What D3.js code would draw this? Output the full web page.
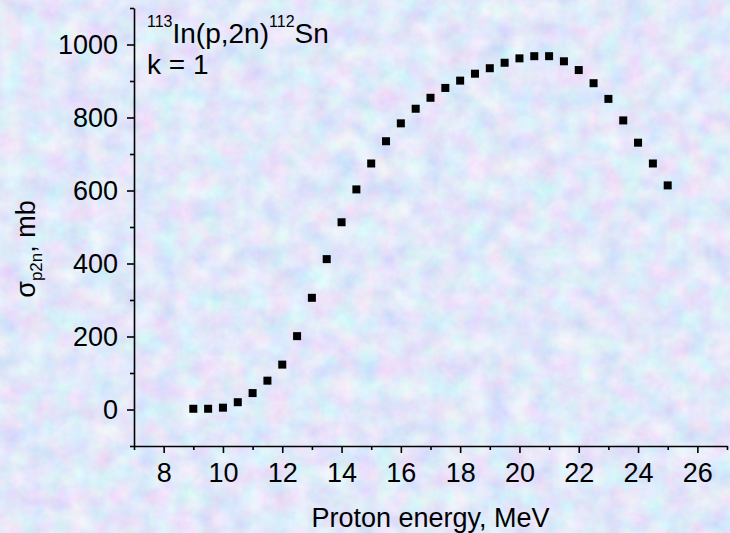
<!DOCTYPE html>
<html>
<head>
<meta charset="utf-8">
<script src="https://cdn.jsdelivr.net/npm/d3@7"></script>
<style>
  body { margin: 0; background: #c2d3f3; }
  svg { display: block; font-family: "Liberation Sans", Arial, sans-serif; }
</style>
</head>
<body>
<div id="chart"></div>
<script>
// Data
const energy = [9, 9.5, 10, 10.5, 11, 11.5, 12, 12.5, 13, 13.5, 14, 14.5, 15, 15.5, 16, 16.5,
    17, 17.5, 18, 18.5, 19, 19.5, 20, 20.5, 21, 21.5, 22, 22.5, 23, 23.5, 24, 24.5, 25];
const sigma = [2, 2, 5, 20, 45, 79, 123, 201, 306, 412, 513, 603, 674, 735, 784, 824,
    854, 881, 901, 920, 935, 950, 962, 968, 968, 954, 930, 894, 851, 792, 731, 674, 614];
const xMajor = [8, 10, 12, 14, 16, 18, 20, 22, 24, 26];
const xMinor = [7, 9, 11, 13, 15, 17, 19, 21, 23, 25, 27];
const yMajor = [0, 200, 400, 600, 800, 1000];
const yMinor = [-100, 100, 300, 500, 700, 900, 1100];

const W = 730, H = 533;
const margin = {top: 8, right: 3, bottom: 87, left: 134};
const font = "Liberation Sans, Arial, sans-serif";

const svg = d3.select("#chart").append("svg")
    .attr("width", W)
    .attr("height", H);

// Pastel textured background
const defs = svg.append("defs");
const f = defs.append("filter").attr("id", "paper")
    .attr("x", 0).attr("y", 0).attr("width", "100%").attr("height", "100%");
f.append("feTurbulence")
    .attr("type", "fractalNoise")
    .attr("baseFrequency", 0.045)
    .attr("numOctaves", 4)
    .attr("seed", 3);
f.append("feColorMatrix")
    .attr("type", "matrix")
    .attr("values", "0.45 0 0 0 0.53  0 0.38 0 0 0.62  0 0 0.14 0 0.88  0 0 0 0 1");
svg.append("rect").attr("width", W).attr("height", H).attr("fill", "#c2d3f3");
svg.append("rect").attr("width", W).attr("height", H)
    .attr("filter", "url(#paper)");

const x = d3.scaleLinear().domain([7, 27]).range([margin.left, W - margin.right]);
const y = d3.scaleLinear().domain([-100, 1100]).range([H - margin.bottom, margin.top]);

// X axis
svg.append("g")
    .attr("transform", `translate(0, ${y(-100)})`)
    .call(d3.axisBottom(x).tickValues(xMinor).tickSize(4).tickSizeOuter(0).tickFormat(""))
    .call(g => g.select(".domain").remove());
svg.append("g")
    .attr("transform", `translate(0, ${y(-100)})`)
    .call(d3.axisBottom(x).tickValues(xMajor).tickSize(7).tickSizeOuter(0).tickPadding(10)
        .tickFormat(d3.format("d")))
    .call(g => g.selectAll("text").attr("font-size", 27).attr("fill", "#000")
        .attr("font-family", font));

// Y axis
svg.append("g")
    .attr("transform", `translate(${x(7)}, 0)`)
    .call(d3.axisLeft(y).tickValues(yMinor).tickSize(4).tickSizeOuter(0).tickFormat(""))
    .call(g => g.select(".domain").remove());
svg.append("g")
    .attr("transform", `translate(${x(7)}, 0)`)
    .call(d3.axisLeft(y).tickValues(yMajor).tickSize(7).tickSizeOuter(0).tickPadding(9)
        .tickFormat(d3.format("d")))
    .call(g => g.selectAll("text").attr("font-size", 27).attr("fill", "#000")
        .attr("font-family", font));

svg.selectAll(".domain, .tick line").attr("stroke", "#000").attr("stroke-width", 1.6);

// Points
svg.selectAll("rect.pt")
    .data(energy)
    .join("rect")
    .attr("class", "pt")
    .attr("x", (d) => x(d) - 4)
    .attr("y", (d, i) => y(sigma[i]) - 4)
    .attr("width", 8)
    .attr("height", 8)
    .attr("fill", "#000");

// Axis titles
svg.append("text")
    .attr("x", (x(7) + x(27)) / 2)
    .attr("y", 527)
    .attr("text-anchor", "middle")
    .attr("font-size", 27)
    .text("Proton energy, MeV");

const yt = svg.append("text")
    .attr("transform", `translate(35, 249) rotate(-90)`)
    .attr("text-anchor", "middle")
    .attr("font-size", 27);
yt.append("tspan").text("σ");
yt.append("tspan").attr("font-size", 17).attr("dy", 7).text("p2n");
yt.append("tspan").attr("dy", -7).text(", mb");

// Reaction label
const lab = svg.append("text").attr("x", 147).attr("y", 43).attr("font-size", 28);
lab.append("tspan").attr("font-size", 16).attr("dy", -16).text("113");
lab.append("tspan").attr("dy", 16).text("In(p,2n)");
lab.append("tspan").attr("font-size", 16).attr("dy", -16).text("112");
lab.append("tspan").attr("dy", 16).text("Sn");
svg.append("text").attr("x", 147).attr("y", 74).attr("font-size", 28).text("k = 1");
</script>
</body>
</html>
